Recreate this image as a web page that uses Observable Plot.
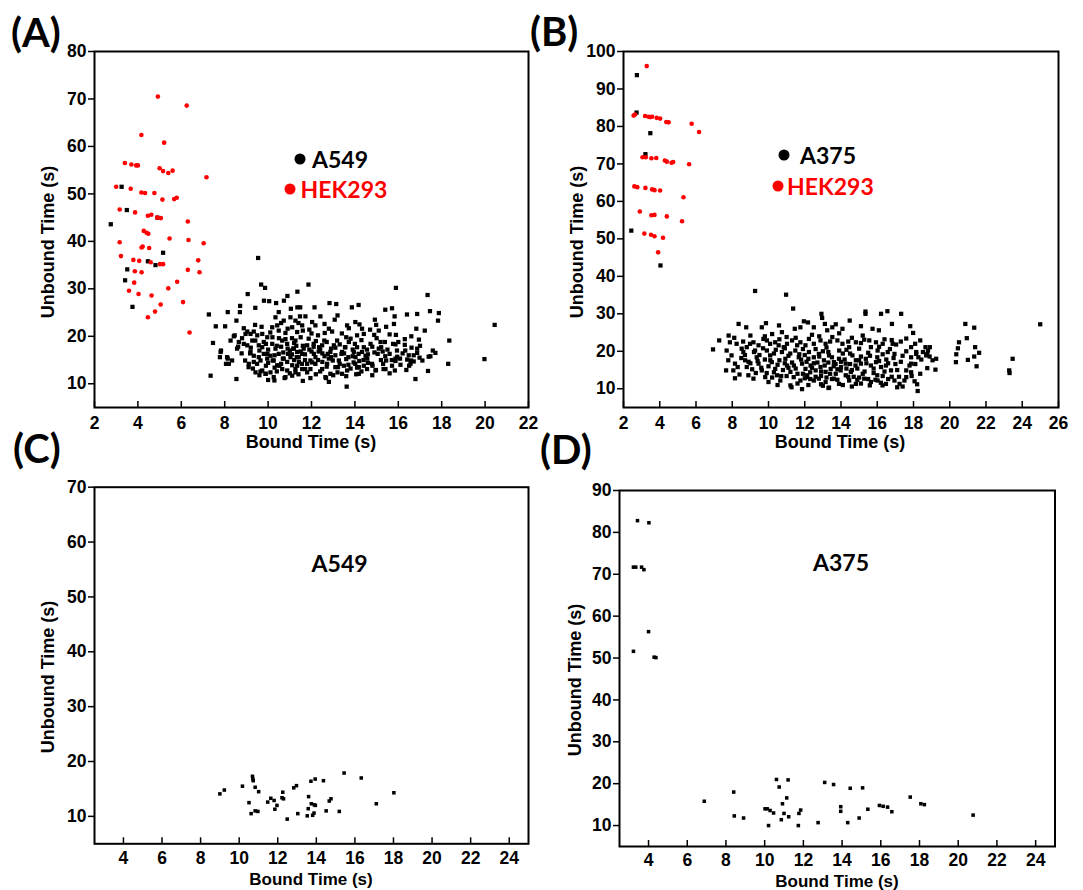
<!DOCTYPE html>
<html>
<head>
<meta charset="utf-8">
<script src="https://cdn.jsdelivr.net/npm/d3@7"></script>
<script src="https://cdn.jsdelivr.net/npm/@observablehq/plot@0.6"></script>
<style>
  body { margin: 0; background: #fff; }
  #root { position: relative; width: 1083px; height: 890px; background: #fff; overflow: hidden; }
  .abs { position: absolute; white-space: nowrap; line-height: 1; }
  .letter { font-family: Lato, "Open Sans", sans-serif; font-weight: 700; font-size: 40px; color: #000; transform: translateY(-50%); }
  .leg { font-family: Lato, "Open Sans", sans-serif; font-weight: 700; font-size: 23px; transform: translateY(-50%); }
  .axl { font-family: "Liberation Sans", Arial, sans-serif; font-weight: 700; font-size: 18px; color: #000; transform: translate(-50%, -50%); }
  .axl.small { font-size: 17px; }
  .ayl { font-family: "Liberation Sans", Arial, sans-serif; font-weight: 700; font-size: 18px; color: #000; transform: translate(-50%, -50%) rotate(-90deg); }
  .dot { position: absolute; width: 11px; height: 11px; border-radius: 50%; transform: translate(-50%, -50%); }
  svg { overflow: visible; }
</style>
</head>
<body>
<div id="root"></div>
<script>
// ---------------- DATA ----------------
const axisLabelX = "Bound Time (s)";
const axisLabelY = "Unbound Time (s)";
const panelLetters = ["(A)", "(B)", "(C)", "(D)"];
const legendA = ["A549", "HEK293"];
const legendB = ["A375", "HEK293"];

const xTicksA = [2,4,6,8,10,12,14,16,18,20,22];
const yTicksA = [10,20,30,40,50,60,70,80];
const xTicksB = [2,4,6,8,10,12,14,16,18,20,22,24,26];
const yTicksB = [10,20,30,40,50,60,70,80,90,100];
const xTicksC = [4,6,8,10,12,14,16,18,20,22,24];
const yTicksC = [10,20,30,40,50,60,70];
const xTicksD = [4,6,8,10,12,14,16,18,20,22,24];
const yTicksD = [10,20,30,40,50,60,70,80,90];

// Panel A, HEK293 (red)
const aHEK293 = [[4.92,70.5],[6.25,68.6],[4.16,62.4],[5.21,60.8],[3.40,56.5],[3.70,56.2],[3.92,56.0],[4.0,56.0],[7.16,53.5],[5.0,55.4],[5.16,54.8],[5.4,54.4],[5.6,54.9],[3.0,51.5],[3.67,51.1],[4.16,50.3],[4.33,50.2],[4.76,50.2],[5.13,48.8],[5.67,48.9],[5.79,49.2],[3.16,46.7],[3.87,46.1],[4.46,45.4],[4.62,45.6],[4.89,45.0],[5.06,44.9],[6.3,44.2],[4.27,42.2],[4.4,41.8],[4.48,41.6],[5.46,40.6],[6.33,40.3],[7.03,39.6],[3.16,39.8],[4.17,38.7],[4.22,38.9],[4.52,38.6],[3.22,36.9],[3.79,36.1],[4.06,35.9],[4.59,35.6],[5.02,35.2],[5.16,35.2],[6.78,36.0],[6.3,34.0],[3.86,33.7],[4.17,33.5],[6.84,33.5],[3.83,31.3],[5.81,31.5],[3.59,29.6],[4.03,28.9],[5.4,30.1],[4.63,28.6],[6.08,27.2],[5.05,26.7],[4.79,25.2],[4.46,24.0],[6.38,20.8]];

// Panel A, A549 (black)
const aA549 = [[2.75,43.6],[3.25,51.5],[3.49,46.6],[3.51,34.1],[3.41,31.8],[3.75,26.2],[4.46,35.8],[4.81,35.0],[5.16,37.6],[4.9,45.0],
[9.54,36.5],[9.68,30.9],[9.86,30.2],[11.86,30.9],[9.06,28.9],[10.89,28.5],[11.35,29.4],[15.89,30.2],[17.35,28.7],[7.27,24.6],[7.59,22.1],[8.02,22.1],[8.14,25.1],[8.54,23.3],[8.71,26.4],[8.70,25.1],[9.41,26.0],[9.81,27.5],[10.05,27.4],[10.37,27.0],[10.73,27.5],[10.49,25.1],[11.05,25.8],[11.35,26.1],[11.48,26.1],[12.14,26.1],[12.83,27.0],[13.14,26.8],[13.86,26.1],[14.17,26.6],[15.40,25.6],[15.71,25.9],[16.40,24.6],[16.87,24.7],[17.46,25.3],[17.87,24.9],[15.83,24.2],[17.83,23.3],[17.22,21.2],[16.83,21.6],[16.95,19.3],[15.89,20.3],[20.44,22.4],[18.35,19.1],[17.71,16.5],[17.40,15.7],[19.97,15.2],[18.30,14.2],[17.37,12.7],[16.79,11.0],[16.37,12.9],[15.84,12.8],[15.32,13.1],[14.97,12.9],[13.62,9.4],[14.06,12.0],[12.67,11.2],[11.95,11.2],[10.76,11.2],[10.29,10.7],[8.54,11.0],[7.35,11.7],[7.46,18.6],
[11.47,24.2],[11.72,24.2],[12.41,24.2],[12.03,23.0],[12.18,22.3],[11.57,22.3],[11.6,21.2],[13.07,23.5],[12.8,21.6],[12.95,21.0],[12.61,20.7],[13.64,22.3],[13.72,21.7],[14.02,23.0],[14.21,22.5],[14.33,21.6],[14.41,20.5],[14.92,23.5],[14.98,22.4],[14.89,20.3],[15.44,22.0],[15.38,18.8],[15.18,18.8],[15.28,16.8],[14.72,18.4],[14.56,17.2],[14.1,17.7],[14.33,16.7],[14.49,15.9],[13.95,16.7],[14.03,15.6],[13.72,18.8],[13.56,17.7],[13.41,16.7],[13.18,19.1],[13.03,18.1],[12.87,16.7],[12.8,15.3],[12.49,18.1],[12.33,16.8],[12.18,15.6],[12.03,14.5],[11.87,19.5],[11.8,18.1],[11.64,17.4],[11.57,16.3],[11.41,15.6],[11.34,13.8],[11.57,13.1],[11.8,14.2],[11.95,13.1],[12.18,14.2],[12.49,13.1],[12.72,14.2],[13.26,14.9],[13.49,13.8],[13.64,12.8],[14.02,14.2],[14.18,13.5],[14.41,13.8],[14.56,13.1],[14.79,14.2],[14.95,12.8],[15.41,13.1],[15.71,13.8],[15.87,15.3],[15.94,17.0],[12.64,11.4],[13.41,12.1],[14.18,12.1],[13.1,13.5],[12.87,12.1],
[16.61,17.6],[16.87,17.4],[15.87,18.3],[16.48,16.0],[16.87,16.5],[15.95,15.7],[15.87,14.8],[16.41,15.1],[16.59,14.9],[16.71,14.7],[16.98,15.5],[17.48,15.8],
[8.88,21.7],[9.04,21.0],[9.19,20.5],[9.34,21.0],[9.5,20.2],[8.42,20.0],[8.27,19.1],[8.65,18.8],[8.88,18.4],[9.04,18.1],[8.57,17.4],[7.81,16.7],[8.11,15.6],[8.34,14.9],[8.19,14.2],[9.19,16.7],[9.34,15.9],[9.57,15.6],[9.8,16.3],[9.65,14.9],[9.96,15.3],[9.34,14.6],[9.11,14.2],[9.42,12.4],[9.65,12.6],[9.88,12.1],[10.11,12.4],[10.26,11.4],[10.19,21.9],[10.42,22.3],[10.49,21.2],[10.8,20.7],[10.65,19.1],[10.88,18.4],[10.19,18.4],[10.34,17.4],[10.49,16.3],[10.72,15.3],[10.88,14.6],[11.03,15.6],[10.11,15.9],[10.26,14.9],[10.42,13.9],[10.65,13.1],[10.88,12.8],[11.11,13.9],[10.8,11.4],[11.11,11.7],[11.26,12.4],[8.96,20.5],[9.27,19.1],[9.57,18.1],[9.8,18.8],[9.96,19.8],[9.73,20.5],[10.34,24.0],[10.72,23.3],[11.03,24.0],[11.26,23.3],[11.11,21.9],[11.34,20.9],[11.26,19.1],[11.19,17.4],[11.34,16.7],[11.42,14.6],[11.26,13.1],
[7.83,17.0],[8.14,15.3],[7.78,15.6],[8.06,14.2],[8.46,20.2],[8.62,17.8],[8.78,16.4],[8.94,14.9],[9.1,13.5],[9.17,16.4],[9.49,14.2],[9.73,12.8],[9.89,12.1],[9.41,19.1],[9.73,17.7],[9.97,16.3],[10.21,14.9],[10.52,13.8],[10.68,15.3],[10.92,16.3],[11.16,17.4],[11.32,15.6],[11.56,14.2],[11.71,13.1],[11.95,14.9],[12.11,16.3],[12.35,17.7],[12.59,19.1],[12.75,16.3],[12.98,14.9],[13.22,13.5],[13.38,16.3],[13.54,17.7],[13.7,15.6],[13.94,14.5],[14.17,16.3],[14.41,17.7],[14.57,15.3],[14.81,13.8],[15.05,16.3],[15.21,17.7],[15.44,14.9],[15.6,16.3],[15.76,18.4],[16.08,15.3],[16.32,17.0],[16.56,14.2],[16.71,16.0],[17.11,14.9],[17.59,17.0],
[10.0,17.2],[10.3,16.0],[10.6,17.8],[11.0,17.0],[11.2,18.6],[11.5,19.8],[11.7,15.0],[12.0,16.8],[12.2,19.0],[12.4,17.2],[12.6,15.8],[12.9,17.4],[13.1,16.0],[13.3,18.3],[13.6,15.2],[13.8,19.5],[14.0,18.4],[14.3,19.2],[14.6,16.2],[14.8,17.8],[15.0,19.6],[15.2,15.0],[15.5,17.2],[15.6,20.4],[16.0,18.8],[16.2,16.4],[9.9,13.8],[10.1,20.8],[10.5,19.6],[10.9,21.6],[11.9,21.4],[12.3,20.2],[13.4,20.6],[14.7,21.4],[9.2,17.6],[8.8,19.6],[11.1,16.2],[11.6,18.0],[12.1,17.8],[12.7,18.8],[13.9,17.2],[14.2,14.8],[15.3,14.2],[16.5,13.8],[17.0,18.0],[10.4,12.6],[11.4,12.0],[12.4,12.6],[13.0,11.8],[13.8,13.2],
[9.6,17.0],[9.9,18.4],[10.2,19.8],[10.4,18.0],[10.7,16.6],[10.9,17.4],[11.1,19.6],[11.3,18.0],[11.5,16.8],[11.7,16.2],[11.9,17.2],[12.1,18.4],[12.3,15.0],[12.5,16.4],[12.7,13.6],[12.9,15.6],[13.1,17.6],[13.3,14.2],[13.5,16.4],[13.7,14.0],[13.9,15.8],[14.1,13.4],[14.4,15.0],[14.6,14.4],[14.9,16.6],[15.1,17.4],[15.4,15.8],[15.7,15.0],[16.1,14.0],[16.3,19.4],[10.0,14.4],[10.3,13.4],[10.6,14.2],[11.0,12.2],[11.2,15.0],[11.8,12.4],[12.2,12.0],[12.5,14.6],[13.2,12.4],[13.6,11.6],[14.3,12.6],[14.8,11.8],[15.6,12.2],[9.3,13.2],[9.6,11.8],[10.0,10.8],[11.6,10.6],[12.8,10.4],[9.4,22.4],[9.7,22.0],[10.6,22.8],[11.4,22.8],[12.6,22.6],[13.2,24.4],[13.6,19.8],[14.1,20.2],[15.1,21.2],[15.8,22.6],[16.6,20.0],[16.3,18.2],[12.0,20.6],[10.8,19.4]];

// Panel B, HEK293 (red)
const bHEK293 = [[3.28,96.1],[2.56,82.9],[2.64,83.2],[3.19,82.8],[3.38,82.6],[3.48,82.5],[3.58,82.6],[3.83,82.3],[4.02,82.1],[4.36,81.2],[4.49,81.1],[5.76,80.7],[6.17,78.5],[3.05,71.8],[3.23,71.8],[3.54,71.5],[3.81,71.6],[4.28,70.9],[4.39,70.6],[4.65,70.3],[4.74,70.5],[5.62,69.9],[2.6,64.0],[2.76,63.8],[3.21,63.6],[3.58,63.2],[3.71,63.0],[4.02,62.9],[5.31,61.1],[2.9,57.3],[3.54,56.3],[3.71,56.4],[4.39,56.0],[5.23,54.7],[3.15,51.4],[3.52,51.1],[3.71,50.7],[4.18,50.3],[3.91,46.4]];

// Panel B, A375 (black)
const bA375 = [[2.74,93.7],[2.72,83.7],[3.48,78.2],[3.21,72.6],[2.43,52.2],[4.04,42.9],
[9.26,36.1],[10.97,35.1],[11.36,31.4],[12.92,30.0],[12.96,28.9],[15.35,30.6],[15.35,30.0],[16.21,30.0],[16.56,30.7],[17.32,30.0],[14.48,28.2],[13.11,27.3],[11.95,28.0],[12.18,27.7],[9.86,27.5],[10.58,26.9],[8.35,27.3],[8.77,26.4],[7.80,24.2],[8.11,23.6],[7.28,22.9],[6.94,20.5],[7.66,14.9],[8.15,12.8],[11.27,10.4],[11.85,9.9],[13.31,10.2],[15.59,10.9],[16.29,10.9],[17.1,10.4],[17.4,10.6],[18.23,9.4],[17.82,26.7],[17.98,24.9],[16.81,27.3],[16.09,25.6],[15.74,26.0],[18.37,22.9],[18.66,21.1],[18.9,21.1],[18.27,18.4],[18.76,19.3],[19.05,17.6],[19.25,18.0],[18.76,15.5],[19.21,15.1],[18.37,14.0],[20.34,17.1],[20.36,19.2],[20.51,22.4],[20.45,20.8],[20.86,27.3],[21.35,26.3],[20.94,23.5],[21.0,17.7],[21.35,18.6],[21.62,19.6],[21.4,21.1],[21.48,16.0],[23.28,14.9],[23.3,14.2],[23.47,18.0],[24.99,27.2],
[9.63,26.4],[10.74,25.1],[11.45,26.0],[11.76,26.4],[7.87,22.4],[8.24,22.0],[8.52,20.7],[8.8,21.1],[8.98,22.0],[9.17,22.4],[9.45,21.6],[9.72,23.3],[9.91,22.9],[10.09,22.0],[10.37,22.4],[10.56,21.6],[10.84,21.1],[11.02,22.0],[11.3,22.9],[11.58,21.6],[11.76,22.4],[12.04,21.6],[7.69,20.2],[7.96,18.9],[7.78,17.6],[8.15,16.7],[8.06,14.9],[8.61,19.8],[8.71,17.6],[8.8,15.8],[8.89,13.6],[9.17,12.7],[9.26,20.2],[9.35,18.4],[9.45,16.7],[9.63,14.9],[9.82,13.1],[9.91,20.2],[10.09,18.9],[10.18,17.1],[10.37,15.3],[10.47,13.6],[10.65,12.2],[10.74,19.8],[10.93,18.0],[11.02,16.2],[11.21,14.5],[11.39,13.1],[11.21,10.9],[11.48,20.2],[11.67,18.4],[11.85,16.7],[12.04,15.3],[12.13,13.6],[11.76,12.2],
[12.5,26.4],[13.24,25.6],[13.52,26.4],[13.71,27.2],[14.08,26.0],[15.1,26.7],[12.23,23.3],[12.5,22.0],[12.87,22.9],[13.15,22.0],[13.52,23.8],[13.8,22.9],[14.08,22.0],[14.82,22.4],[15.28,23.1],[15.56,22.9],[15.93,22.4],[16.3,22.0],[16.85,22.0],[17.04,21.8],[14.45,21.1],[15.0,20.7],[15.65,21.1],[16.02,20.2],[16.58,19.8],[16.95,19.3],[17.87,18.4],[18.15,19.8],[12.23,19.8],[12.5,18.4],[12.78,19.3],[13.06,17.6],[13.34,18.9],[13.61,17.1],[13.89,18.0],[14.26,16.7],[14.63,18.9],[14.82,17.6],[15.1,16.7],[15.37,18.0],[15.65,16.2],[15.93,17.1],[16.21,15.8],[16.48,16.2],[16.76,14.9],[12.32,16.2],[12.6,14.9],[12.87,15.8],[13.15,14.5],[13.43,15.3],[13.71,14.0],[13.98,14.9],[14.26,13.6],[14.54,14.5],
[12.13,13.1],[12.5,12.2],[12.78,12.7],[13.15,11.8],[13.61,12.7],[13.89,11.3],[14.45,12.2],[14.82,11.3],[15.28,12.7],[15.65,11.8],[16.02,12.2],[16.48,11.3],[16.95,12.2],[17.23,11.3],[17.6,13.1],[13.34,10.3],[17.78,16.2],[17.6,14.9],
[18.09,22.0],[17.87,21.1],[18.52,19.8],[18.8,20.2],[18.7,18.9],[18.89,18.6],[18.15,19.3],[18.43,17.8],[17.87,16.7],[17.87,14.4],[18.06,12.0],
[9.5,19.0],[9.8,17.8],[10.0,16.0],[10.3,19.4],[10.6,17.6],[10.8,15.0],[11.0,13.4],[11.3,17.0],[11.5,15.4],[11.7,19.2],[11.9,14.0],[12.1,17.2],[12.3,12.6],[12.4,15.6],[12.7,17.0],[12.9,13.4],[13.1,16.2],[13.3,19.8],[13.5,12.6],[13.6,16.0],[13.8,15.2],[14.0,17.2],[14.1,19.4],[14.3,15.4],[14.5,16.6],[14.7,13.2],[14.9,15.4],[15.1,18.6],[15.3,14.6],[15.5,19.6],[15.8,14.2],[16.0,18.4],[16.3,13.4],[16.5,17.8],[16.7,20.6],[17.0,16.6],[17.2,13.2],[17.4,18.8],[9.0,16.8],[9.3,14.2],[10.2,13.0],[10.9,20.8],[11.1,18.8],[12.0,19.0],[12.6,20.6],[13.2,21.0],[14.3,20.4],[15.0,13.0],[15.9,12.4],[16.6,12.6],[11.6,11.4],[12.9,11.2],[14.1,11.0],[10.0,11.8],[8.5,18.2],[8.3,15.8],[9.0,24.2],[10.2,24.6],[11.0,23.8],[12.4,24.4],[13.9,24.8],[14.6,23.6],[16.4,23.2],[17.3,22.6],[15.2,24.2],
[9.2,19.8],[9.4,17.4],[9.6,15.6],[9.7,20.8],[9.9,14.2],[10.1,17.6],[10.3,14.4],[10.4,20.4],[10.5,16.4],[10.7,13.4],[10.9,16.8],[11.1,15.6],[11.2,19.4],[11.4,16.2],[11.6,14.0],[11.8,17.8],[11.9,20.6],[12.0,12.8],[12.2,18.0],[12.3,14.4],[12.5,16.8],[12.6,13.2],[12.8,18.6],[12.9,14.6],[13.0,20.0],[13.2,13.0],[13.3,17.0],[13.4,14.0],[13.5,18.4],[13.7,16.6],[13.8,12.4],[13.9,20.2],[14.0,15.8],[14.2,17.8],[14.4,13.2],[14.5,19.4],[14.6,15.0],[14.8,16.2],[14.9,12.4],[15.0,17.6],[15.2,14.0],[15.4,16.8],[15.5,12.6],[15.6,18.8],[15.8,15.4],[16.0,13.6],[16.1,17.4],[16.3,19.2],[16.4,14.6],[16.6,16.8],[16.8,13.2],[16.9,18.2],[17.1,15.0],[17.3,17.2],[17.5,12.2],[17.6,20.0],[17.9,13.4],[18.1,16.6],[18.2,11.2],[8.7,19.0],[8.9,17.2],[9.1,15.2],[8.4,13.8],[8.6,22.6],[9.8,24.0],[10.6,23.2],[11.5,23.6],[12.8,24.0],[13.4,22.6],[14.4,22.6],[15.1,22.2],[16.1,21.2],[16.8,23.0],[17.6,23.4],[12.2,11.0],[13.0,10.8],[14.6,10.6],[15.1,11.4],[16.2,11.6],[10.5,11.0]];

// Panel C, A549
const cA549 = [[9.0,14.1],[9.23,14.8],[10.17,15.5],[10.69,17.3],[10.71,16.8],[10.73,16.5],[10.83,15.3],[11.01,14.5],[10.51,12.5],[10.62,10.5],[10.83,11.0],[10.97,10.9],[11.48,12.6],[11.64,13.3],[11.81,12.9],[11.96,12.0],[11.85,11.3],[12.22,13.4],[12.26,14.4],[12.3,13.2],[12.49,9.5],[12.83,15.2],[12.97,15.6],[13.04,10.5],[13.6,13.6],[13.72,16.4],[13.94,16.8],[14.37,16.5],[13.74,12.3],[13.9,12.1],[13.95,12.0],[13.58,11.4],[13.53,10.1],[13.81,10.2],[13.88,10.6],[14.51,11.0],[14.67,12.8],[14.76,13.2],[15.19,10.9],[15.44,17.9],[16.33,17.0],[17.11,12.3],[18.02,14.3]];

// Panel D, A375
const dA375 = [[3.43,82.8],[4.02,82.3],[3.22,71.7],[3.34,71.7],[3.64,71.7],[3.76,71.1],[4.0,56.3],[3.22,51.6],[4.29,50.2],[4.38,50.1],[6.88,15.8],[8.40,18.0],[8.43,12.3],[8.91,11.8],[10.02,14.0],[10.13,14.0],[10.28,13.6],[10.46,13.0],[10.2,10.0],[10.61,21.0],[10.75,19.2],[11.21,20.9],[10.92,15.2],[11.14,16.6],[11.0,12.9],[10.86,11.4],[11.24,12.1],[11.74,10.0],[11.77,12.9],[11.86,13.7],[12.76,10.7],[13.1,20.3],[13.56,19.8],[13.93,14.5],[13.93,13.4],[14.29,10.7],[14.42,18.9],[15.06,19.0],[14.88,11.8],[15.33,13.9],[15.93,14.8],[16.12,14.6],[16.35,14.4],[16.57,13.3],[17.52,16.8],[18.07,15.2],[18.25,15.0],[20.77,12.5]];

// ---------------- DRAW ----------------
const root = document.getElementById("root");
const RED = "#ff0000";

function panel({left, top, width, height, mL, mR, mT, mB, xDomain, yDomain, xTicks, yTicks, black, red, rBlack, xPad}) {
  const innerH = height - mT - mB;
  const marks = [
    Plot.dot(black, {x: d => d[0], y: d => d[1], symbol: "square", r: rBlack, fill: "#000", stroke: "none"})
  ];
  if (red) marks.push(Plot.dot(red, {x: d => d[0], y: d => d[1], r: 2.3, fill: RED, stroke: "none"}));
  marks.push(
    Plot.frame({stroke: "#000", strokeWidth: 2}),
    Plot.axisY(yTicks, {tickSize: 6, tickPadding: 2, strokeWidth: 1.5, label: null, fill: "#000"}),
    Plot.axisX(xTicks, {tickSize: 0, tickPadding: xPad, label: null, fill: "#000"}),
    Plot.tickX(xTicks, {x: d => d, insetTop: innerH - 6, stroke: "#000", strokeWidth: 1.5})
  );
  const svg = Plot.plot({
    width, height,
    marginLeft: mL, marginRight: mR, marginTop: mT, marginBottom: mB,
    x: {domain: xDomain},
    y: {domain: yDomain},
    style: {fontFamily: "'Liberation Sans', Arial, sans-serif", fontSize: "17.5px", fontWeight: "bold", color: "#000", background: "transparent"},
    marks
  });
  svg.style.position = "absolute";
  svg.style.left = left + "px";
  svg.style.top = top + "px";
  root.appendChild(svg);
}

panel({left: 0, top: 0, width: 540, height: 460, mL: 94, mR: 12, mT: 51, mB: 53,
  xDomain: [2, 22], yDomain: [5, 80], xTicks: xTicksA, yTicks: yTicksA, black: aA549, red: aHEK293, rBlack: 2.4, xPad: 9});
panel({left: 540, top: 0, width: 543, height: 460, mL: 83, mR: 25, mT: 51, mB: 53,
  xDomain: [2, 26], yDomain: [5, 100], xTicks: xTicksB, yTicks: yTicksB, black: bA375, red: bHEK293, rBlack: 2.4, xPad: 9});
panel({left: 0, top: 460, width: 540, height: 430, mL: 94, mR: 12, mT: 26.7, mB: 46.7,
  xDomain: [2.5, 25], yDomain: [5, 70], xTicks: xTicksC, yTicks: yTicksC, black: cA549, red: null, rBlack: 2.0, xPad: 8});
panel({left: 540, top: 460, width: 543, height: 430, mL: 79, mR: 28.5, mT: 30, mB: 44,
  xDomain: [2.5, 25], yDomain: [5, 90], xTicks: xTicksD, yTicks: yTicksD, black: dA375, red: null, rBlack: 2.0, xPad: 7});

function addText(cls, text, x, y, color) {
  const el = document.createElement("div");
  el.className = "abs " + cls;
  el.textContent = text;
  el.style.left = x + "px";
  el.style.top = y + "px";
  if (color) el.style.color = color;
  root.appendChild(el);
}
function addDot(x, y, color) {
  const el = document.createElement("div");
  el.className = "dot";
  el.style.left = x + "px";
  el.style.top = y + "px";
  el.style.background = color;
  root.appendChild(el);
}

// panel letters
addText("letter", panelLetters[0], 11, 32);
addText("letter", panelLetters[1], 530, 31);
addText("letter", panelLetters[2], 13, 448);
addText("letter", panelLetters[3], 540, 449);

// axis labels
addText("axl", axisLabelX, 311, 442);
addText("axl", axisLabelX, 840, 442);
addText("axl small", axisLabelX, 311, 879);
addText("axl small", axisLabelX, 837, 880.5);
addText("ayl", axisLabelY, 48, 242);
addText("ayl", axisLabelY, 577, 242);
addText("ayl", axisLabelY, 48, 677);
addText("ayl", axisLabelY, 575, 680);

// legends
addDot(299.6, 159.3, "#000");
addText("leg", legendA[0], 312, 159, "#000");
addDot(290, 189.3, RED);
addText("leg", legendA[1], 300.6, 189, RED);
addDot(784, 155, "#000");
addText("leg", legendB[0], 800, 155, "#000");
addDot(778, 185.7, RED);
addText("leg", legendB[1], 787, 186, RED);
addText("leg", legendA[0], 311.6, 563, "#000");
addText("leg", legendB[0], 813, 562, "#000");
</script>
</body>
</html>
